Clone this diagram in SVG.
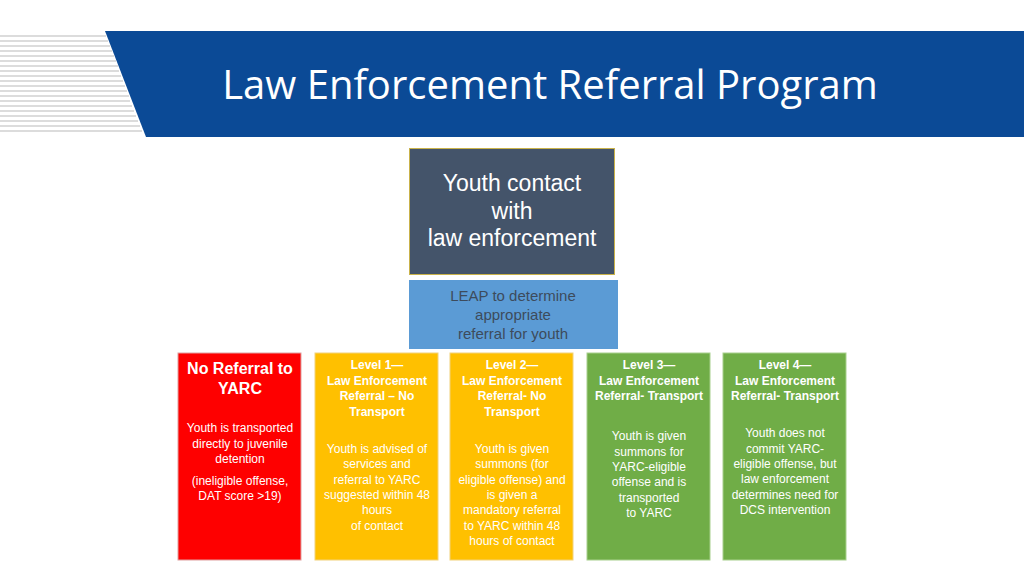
<svg xmlns="http://www.w3.org/2000/svg" width="1024" height="576" viewBox="0 0 1024 576">
<style>
.h{font-family:"Liberation Sans",Arial,sans-serif;font-weight:bold;fill:#fff;text-anchor:middle}
.b{font-family:"Liberation Sans",Arial,sans-serif;fill:#fff;text-anchor:middle;font-size:12px}
.st{stroke:#d0d0d0;stroke-width:1.5}
</style>
<rect width="1024" height="576" fill="#fff"/>
<g id="header">
<g class="st">
<line x1="0" y1="36" x2="106" y2="36"/><line x1="0" y1="41" x2="108" y2="41"/><line x1="0" y1="46" x2="110" y2="46"/><line x1="0" y1="51" x2="112" y2="51"/><line x1="0" y1="56" x2="114" y2="56"/><line x1="0" y1="61" x2="116" y2="61"/><line x1="0" y1="66" x2="118" y2="66"/><line x1="0" y1="71" x2="119" y2="71"/><line x1="0" y1="76" x2="121" y2="76"/><line x1="0" y1="81" x2="123" y2="81"/><line x1="0" y1="86" x2="125" y2="86"/><line x1="0" y1="91" x2="127" y2="91"/><line x1="0" y1="96" x2="129" y2="96"/><line x1="0" y1="101" x2="130" y2="101"/><line x1="0" y1="106" x2="132" y2="106"/><line x1="0" y1="111" x2="134" y2="111"/><line x1="0" y1="116" x2="136" y2="116"/><line x1="0" y1="121" x2="138" y2="121"/><line x1="0" y1="126" x2="140" y2="126"/><line x1="0" y1="131" x2="142" y2="131"/>
</g>
<polygon points="105,31 1024,31 1024,137 146,137" fill="#0b4a96"/>
<text x="550" y="99" font-family="'Open Sans','Liberation Sans',sans-serif" font-size="40" fill="#fff" text-anchor="middle">Law Enforcement Referral Program</text>
</g>
<g id="contact">
<rect x="409.5" y="148.5" width="205" height="126" fill="#44546a" stroke="#c9b24a"/>
<text font-family="'Liberation Sans',Arial,sans-serif" font-size="23" fill="#fff" text-anchor="middle"><tspan x="512" y="191">Youth contact</tspan><tspan x="512" y="219">with</tspan><tspan x="512" y="246">law enforcement</tspan></text>
</g>
<g id="leap">
<rect x="409" y="280" width="209" height="69" fill="#5b9bd5"/>
<text font-family="'Liberation Sans',Arial,sans-serif" font-size="15" fill="#3d4b5c" text-anchor="middle"><tspan x="513" y="301">LEAP to determine</tspan><tspan x="513" y="320">appropriate</tspan><tspan x="513" y="339">referral for youth</tspan></text>
</g>
<g id="none">
<rect x="178" y="353" width="123" height="207" fill="#fe0000" stroke="#e0a0a0"/>
<text class="h" font-size="16"><tspan x="240" y="374">No Referral to</tspan><tspan x="240" y="394">YARC</tspan></text>
<text class="b"><tspan x="240" y="432">Youth is transported</tspan><tspan x="240" y="448">directly to juvenile</tspan><tspan x="240" y="463">detention</tspan><tspan x="240" y="485">(ineligible offense,</tspan><tspan x="240" y="500">DAT score &gt;19)</tspan></text>
</g>
<g id="level1">
<rect x="315" y="353" width="123" height="207" fill="#ffc000" stroke="#f2d27a"/>
<text class="h" font-size="12"><tspan x="377" y="369">Level 1—</tspan><tspan x="377" y="385">Law Enforcement</tspan><tspan x="377" y="400">Referral – No</tspan><tspan x="377" y="416">Transport</tspan></text>
<text class="b"><tspan x="377" y="453">Youth is advised of</tspan><tspan x="377" y="468">services and</tspan><tspan x="377" y="484">referral to YARC</tspan><tspan x="377" y="499">suggested within 48</tspan><tspan x="377" y="514">hours</tspan><tspan x="377" y="530">of contact</tspan></text>
</g>
<g id="level2">
<rect x="450" y="353" width="123" height="207" fill="#ffc000" stroke="#f2d27a"/>
<text class="h" font-size="12"><tspan x="512" y="369">Level 2—</tspan><tspan x="512" y="385">Law Enforcement</tspan><tspan x="512" y="400">Referral- No</tspan><tspan x="512" y="416">Transport</tspan></text>
<text class="b"><tspan x="512" y="453">Youth is given</tspan><tspan x="512" y="468">summons (for</tspan><tspan x="512" y="484">eligible offense) and</tspan><tspan x="512" y="499">is given a</tspan><tspan x="512" y="514">mandatory referral</tspan><tspan x="512" y="530">to YARC within 48</tspan><tspan x="512" y="545">hours of contact</tspan></text>
</g>
<g id="level3">
<rect x="587" y="353" width="123" height="207" fill="#70ad47" stroke="#a8d08d"/>
<text class="h" font-size="12"><tspan x="649" y="369">Level 3—</tspan><tspan x="649" y="385">Law Enforcement</tspan><tspan x="649" y="400">Referral- Transport</tspan></text>
<text class="b"><tspan x="649" y="440">Youth is given</tspan><tspan x="649" y="456">summons for</tspan><tspan x="649" y="471">YARC-eligible</tspan><tspan x="649" y="486">offense and is</tspan><tspan x="649" y="502">transported</tspan><tspan x="649" y="517">to YARC</tspan></text>
</g>
<g id="level4">
<rect x="723" y="353" width="123" height="207" fill="#70ad47" stroke="#a8d08d"/>
<text class="h" font-size="12"><tspan x="785" y="369">Level 4—</tspan><tspan x="785" y="385">Law Enforcement</tspan><tspan x="785" y="400">Referral- Transport</tspan></text>
<text class="b"><tspan x="785" y="437">Youth does not</tspan><tspan x="785" y="453">commit YARC-</tspan><tspan x="785" y="468">eligible offense, but</tspan><tspan x="785" y="483">law enforcement</tspan><tspan x="785" y="499">determines need for</tspan><tspan x="785" y="514">DCS  intervention</tspan></text>
</g>
<g id="connectors"/>
</svg>
